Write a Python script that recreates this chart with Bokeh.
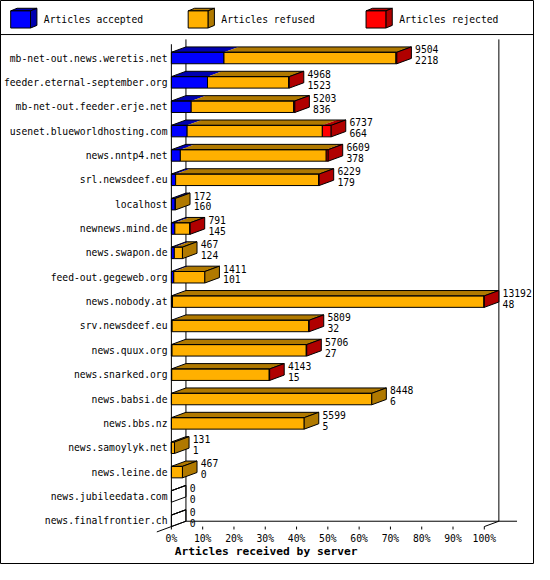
from bokeh.plotting import figure
from bokeh.models import Range1d
from bokeh.embed import file_html
from bokeh.resources import INLINE
from bokeh.core.properties import value

# ---------------- data ----------------
servers = [
    "mb-net-out.news.weretis.net", "feeder.eternal-september.org",
    "mb-net-out.feeder.erje.net", "usenet.blueworldhosting.com",
    "news.nntp4.net", "srl.newsdeef.eu", "localhost", "newnews.mind.de",
    "news.swapon.de", "feed-out.gegeweb.org", "news.nobody.at",
    "srv.newsdeef.eu", "news.quux.org", "news.snarked.org", "news.babsi.de",
    "news.bbs.nz", "news.samoylyk.net", "news.leine.de",
    "news.jubileedata.com", "news.finalfrontier.ch",
]
offered = [9504, 4968, 5203, 6737, 6609, 6229, 172, 791, 467, 1411,
           13192, 5809, 5706, 4143, 8448, 5599, 131, 467, 0, 0]
accepted = [2218, 1523, 836, 664, 378, 179, 160, 145, 124, 101,
            48, 32, 27, 15, 6, 5, 1, 0, 0, 0]
refused = [7250, 3420, 4320, 5700, 6150, 6030, 12, 630, 343, 1310,
           13130, 5760, 5660, 4110, 8442, 5594, 130, 467, 0, 0]
rejected = [36, 25, 47, 373, 81, 20, 0, 16, 0, 0,
            14, 17, 19, 18, 0, 0, 0, 0, 0, 0]

series = ["Articles accepted", "Articles refused", "Articles rejected"]
front_colors = ["#0000ff", "#ffb000", "#ff0000"]
shade_colors = ["#0000b0", "#b07900", "#b00000"]
x_ticks = [0, 10, 20, 30, 40, 50, 60, 70, 80, 90, 100]
x_tick_labels = ["0%", "10%", "20%", "30%", "40%", "50%", "60%", "70%",
                 "80%", "90%", "100%"]
x_title = "Articles received by server"

# ---------------- layout (reference pixels) ----------------
REF_W, REF_H = 550, 580
W, H = 534, 564
S = W / REF_W
X0_PX, X100_PX = 176.0, 498.3
ROW_PX = 25.05
FLOOR_PX = 541.0
DX_PX, DY_PX = 15.0, 5.5
BAR_PX = 11.8
PPP = (X100_PX - X0_PX) / 100.0


def xd(px):
    return (px - X0_PX) / PPP


def yd(py):
    return (FLOOR_PX - py) / ROW_PX


DX = DX_PX / PPP
DY = DY_PX / ROW_PX
BH = BAR_PX / ROW_PX

FONT = value("DejaVu Sans Mono")
FS = value(f"{10 * S:.2f}px")
TFS = value(f"{11.6 * S:.2f}px")

p = figure(width=W, height=H,
           x_range=Range1d(xd(0), xd(REF_W)),
           y_range=Range1d(yd(REF_H), yd(0)),
           x_axis_location=None, y_axis_location=None,
           min_border=0, toolbar_location=None, output_backend="svg",
           background_fill_color="white", border_fill_color="white")
p.grid.visible = False
p.outline_line_color = "black"
p.outline_line_width = 1

# ---------------- legend ----------------
LEG_X_PX = [10.5, 193.3, 376.5]
LEG_TOP_PX, LEG_BOT_PX = 10.7, 28.3
LEG_W_PX = 20.4
LEG_DX_PX, LEG_DY_PX = 6.6, 2.7
LEG_TEXT_DX_PX = 34.1
LEG_TEXT_Y_PX = 20.0

for s, name in enumerate(series):
    lx = LEG_X_PX[s]
    rx = lx + LEG_W_PX
    top_xs = [xd(lx), xd(lx + LEG_DX_PX), xd(rx + LEG_DX_PX), xd(rx)]
    top_ys = [yd(LEG_TOP_PX), yd(LEG_TOP_PX - LEG_DY_PX),
              yd(LEG_TOP_PX - LEG_DY_PX), yd(LEG_TOP_PX)]
    side_xs = [xd(rx), xd(rx + LEG_DX_PX), xd(rx + LEG_DX_PX), xd(rx)]
    side_ys = [yd(LEG_TOP_PX), yd(LEG_TOP_PX - LEG_DY_PX),
               yd(LEG_BOT_PX - LEG_DY_PX), yd(LEG_BOT_PX)]
    p.patch(top_xs, top_ys, fill_color=shade_colors[s], line_color="black",
            line_width=1)
    p.patch(side_xs, side_ys, fill_color=shade_colors[s], line_color="black",
            line_width=1)
    p.quad(left=[xd(lx)], right=[xd(rx)], bottom=[yd(LEG_BOT_PX)],
           top=[yd(LEG_TOP_PX)], fill_color=front_colors[s],
           line_color="black", line_width=1)
    p.text(x=[xd(lx + LEG_TEXT_DX_PX)], y=[yd(LEG_TEXT_Y_PX)], text=[name],
           text_font=FONT, text_font_size=FS, text_color="black",
           text_align="left", text_baseline="middle")

# separator under legend
p.segment(x0=[xd(0)], y0=[yd(35)], x1=[xd(REF_W)], y1=[yd(35)],
          line_color="black", line_width=1)

# ---------------- walls / floor ----------------
TOP_BACK = yd(40)
TOP_FRONT = yd(45)
p.segment(x0=[DX, 100 + DX, DX, -DX, 100],
          y0=[DY, DY, DY, -DY, 0],
          x1=[DX, 100 + DX, xd(532), DX, 100 + DX],
          y1=[TOP_BACK, TOP_BACK, DY, DY, DY],
          line_color="black", line_width=1)

# ---------------- bars ----------------
n = len(servers)
scale = 100.0 / max(offered)

for i, name in enumerate(servers):
    k = n - 1 - i
    y0, y1 = k, k + BH
    vals = [accepted[i], refused[i], rejected[i]]
    x = 0.0
    last = None
    fronts = []
    for s, v in enumerate(vals):
        if v <= 0:
            continue
        w = v * scale
        p.patch([x, x + DX, x + w + DX, x + w], [y1, y1 + DY, y1 + DY, y1],
                fill_color=shade_colors[s], line_color=None)
        fronts.append((x, x + w, s))
        x += w
        last = s
    for (a, b, s) in fronts:
        p.quad(left=[a], right=[b], bottom=[y0], top=[y1],
               fill_color=front_colors[s], line_color="black", line_width=1)
    # top outline
    p.patch([0, DX, x + DX, x], [y1, y1 + DY, y1 + DY, y1],
            fill_alpha=0, line_color="black", line_width=1)
    # side face
    side_fill = shade_colors[last] if last is not None else "white"
    side_alpha = 1 if last is not None else 0
    p.patch([x, x + DX, x + DX, x], [y0, y0 + DY, y1 + DY, y1],
            fill_color=side_fill, fill_alpha=side_alpha,
            line_color="black", line_width=1)
    # value labels
    lx = offered[i] * scale + DX + 3.8 / PPP
    p.text(x=[lx, lx], y=[y1 + 3.0 / ROW_PX, y1 - 8.2 / ROW_PX],
           text=[str(offered[i]), str(accepted[i])],
           text_font=FONT, text_font_size=FS, text_color="black",
           text_align="left", text_baseline="middle")

# left axis line
p.segment(x0=[0], y0=[0], x1=[0], y1=[TOP_FRONT], line_color="black",
          line_width=1)

# category labels
p.text(x=[xd(172)] * n, y=[n - 1 - i + BH / 2 for i in range(n)],
       text=servers, text_font=FONT, text_font_size=FS, text_color="black",
       text_align="right", text_baseline="middle")

# x ticks and labels
p.segment(x0=x_ticks, y0=[0] * len(x_ticks), x1=x_ticks,
          y1=[yd(FLOOR_PX + 3)] * len(x_ticks), line_color="black",
          line_width=1)
p.text(x=x_ticks, y=[yd(553)] * len(x_ticks), text=x_tick_labels,
       text_font=FONT, text_font_size=FS, text_color="black",
       text_align="center", text_baseline="middle")

# axis title
p.text(x=[xd(273.6)], y=[yd(567)], text=[x_title], text_font=FONT,
       text_font_size=TFS, text_font_style="bold", text_color="black",
       text_align="center", text_baseline="middle")

open("out.html", "w").write(file_html(p, INLINE))
